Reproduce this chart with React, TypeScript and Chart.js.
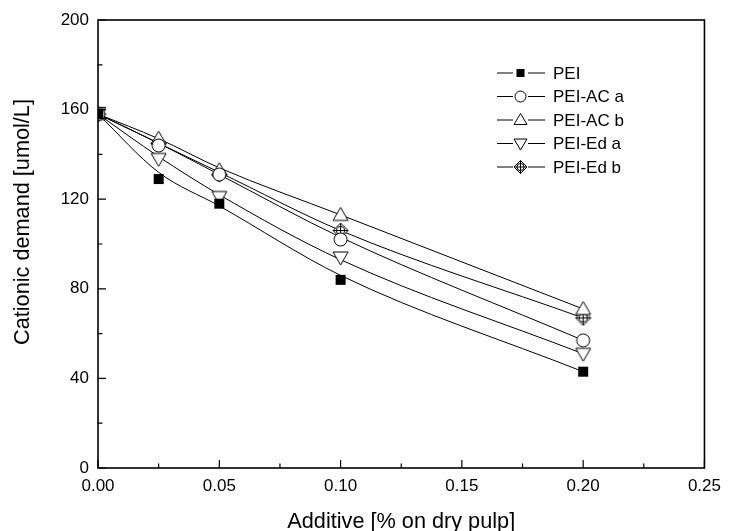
import { useEffect, useRef } from 'react';
import { Chart, registerables } from 'chart.js';

Chart.register(...registerables);

const seriesNames = ['PEI', 'PEI-AC a', 'PEI-AC b', 'PEI-Ed a', 'PEI-Ed b'];
const markerTypes = ['square', 'circle', 'triUp', 'triDown', 'diamondCross'];
const xValues = [0, 0.025, 0.05, 0.1, 0.2];

const peiValues = [158, 129, 118, 84, 43];
const peiAcAValues = [158, 144, 131, 102, 57];
const peiAcBValues = [158, 147, 133, 113, 71];
const peiEdAValues = [158, 138, 121, 94, 51];
const peiEdBValues = [158, 145, 131, 106, 67];

const peiFit = [158, 132, 117, 86, 43];
const peiAcAFit = [158, 145, 131, 103, 57];
const peiAcBFit = [158, 147, 134, 113, 71];
const peiEdAFit = [158, 139, 122, 93, 51];
const peiEdBFit = [158, 145, 132, 106, 67];

const errorBarX = [0];
const errorBarLow = [156];
const errorBarHigh = [161];

const xTickValues = [0, 0.05, 0.1, 0.15, 0.2, 0.25];
const yTickValues = [0, 40, 80, 120, 160, 200];

const xTitle = 'Additive [% on dry pulp]';
const yTitle = 'Cationic demand [umol/L]';

const FONT = "'Liberation Sans', Arial, Helvetica, sans-serif";

function drawMarker(ctx: CanvasRenderingContext2D, type: string, x: number, y: number, s: number) {
  ctx.save();
  ctx.lineWidth = 1;
  ctx.strokeStyle = '#000';
  ctx.fillStyle = '#fff';
  ctx.beginPath();
  const h = s / 2;
  switch (type) {
    case 'square':
      ctx.fillStyle = '#000';
      ctx.fillRect(x - h, y - h, s, s);
      break;
    case 'circle':
      ctx.arc(x, y, h + 1, 0, Math.PI * 2);
      ctx.fill();
      ctx.stroke();
      break;
    case 'triUp':
      ctx.moveTo(x, y - h - 2);
      ctx.lineTo(x + h + 2, y + h);
      ctx.lineTo(x - h - 2, y + h);
      ctx.closePath();
      ctx.fill();
      ctx.stroke();
      break;
    case 'triDown':
      ctx.moveTo(x, y + h + 2);
      ctx.lineTo(x + h + 2, y - h);
      ctx.lineTo(x - h - 2, y - h);
      ctx.closePath();
      ctx.fill();
      ctx.stroke();
      break;
    case 'diamondCross': {
      const d = h + 2;
      ctx.moveTo(x, y - d);
      ctx.lineTo(x + d, y);
      ctx.lineTo(x, y + d);
      ctx.lineTo(x - d, y);
      ctx.closePath();
      ctx.fill();
      ctx.stroke();
      ctx.beginPath();
      ctx.arc(x, y, d * 0.55, 0, Math.PI * 2);
      ctx.stroke();
      ctx.beginPath();
      ctx.moveTo(x, y - d);
      ctx.lineTo(x, y + d);
      ctx.moveTo(x - d, y);
      ctx.lineTo(x + d, y);
      ctx.stroke();
      break;
    }
  }
  ctx.restore();
}

function makeMarkerCanvas(type: string, s: number) {
  const c = document.createElement('canvas');
  const size = s + 6;
  c.width = size;
  c.height = size;
  const ctx = c.getContext('2d')!;
  drawMarker(ctx, type, size / 2, size / 2, s);
  return c;
}

const framePlugin = {
  id: 'originFrame',
  afterDatasetsDraw(chart: any) {
    const ctx: CanvasRenderingContext2D = chart.ctx;
    const { left, right, top, bottom } = chart.chartArea;
    const xs = chart.scales.x;
    const ys = chart.scales.y;

    // error bars
    ctx.save();
    ctx.beginPath();
    ctx.rect(left, top, right - left, bottom - top);
    ctx.clip();
    ctx.strokeStyle = '#000';
    ctx.lineWidth = 1;
    for (let i = 0; i < errorBarX.length; i++) {
      const px = xs.getPixelForValue(errorBarX[i]);
      const y1 = ys.getPixelForValue(errorBarLow[i]);
      const y2 = ys.getPixelForValue(errorBarHigh[i]);
      ctx.beginPath();
      ctx.moveTo(px, y1);
      ctx.lineTo(px, y2);
      ctx.moveTo(px - 8, y1);
      ctx.lineTo(px + 8, y1);
      ctx.moveTo(px - 8, y2);
      ctx.lineTo(px + 8, y2);
      ctx.stroke();
    }
    ctx.restore();

    // frame
    ctx.save();
    ctx.strokeStyle = '#000';
    ctx.lineWidth = 1.6;
    ctx.strokeRect(left, top, right - left, bottom - top);

    // ticks (inward) bottom & left
    ctx.lineWidth = 1.2;
    ctx.beginPath();
    for (let i = 0; i < xTickValues.length; i++) {
      const px = xs.getPixelForValue(xTickValues[i]);
      ctx.moveTo(px, bottom);
      ctx.lineTo(px, bottom - 8);
      if (i < xTickValues.length - 1) {
        const mx = xs.getPixelForValue((xTickValues[i] + xTickValues[i + 1]) / 2);
        ctx.moveTo(mx, bottom);
        ctx.lineTo(mx, bottom - 4.5);
      }
    }
    for (let i = 0; i < yTickValues.length; i++) {
      const py = ys.getPixelForValue(yTickValues[i]);
      ctx.moveTo(left, py);
      ctx.lineTo(left + 8, py);
      if (i < yTickValues.length - 1) {
        const my = ys.getPixelForValue((yTickValues[i] + yTickValues[i + 1]) / 2);
        ctx.moveTo(left, my);
        ctx.lineTo(left + 4.5, my);
      }
    }
    ctx.stroke();

    // axis titles
    ctx.fillStyle = '#000';
    ctx.font = `21.7px ${FONT}`;
    ctx.textAlign = 'center';
    ctx.textBaseline = 'alphabetic';
    ctx.fillText(xTitle, (left + right) / 2, 528);
    ctx.save();
    ctx.translate(29, 222);
    ctx.rotate(-Math.PI / 2);
    ctx.fillText(yTitle, 0, 0);
    ctx.restore();

    // legend
    const lx = left + 399;
    const ly0 = top + 53;
    const dy = 23.5;
    ctx.font = `17px ${FONT}`;
    ctx.textAlign = 'left';
    ctx.textBaseline = 'middle';
    for (let i = 0; i < seriesNames.length; i++) {
      const y = ly0 + i * dy;
      ctx.lineWidth = 1;
      ctx.beginPath();
      ctx.moveTo(lx, y);
      ctx.lineTo(lx + 16, y);
      ctx.moveTo(lx + 31, y);
      ctx.lineTo(lx + 48, y);
      ctx.stroke();
      drawMarker(ctx, markerTypes[i], lx + 23.5, y, markerTypes[i] === 'square' ? 8 : 9);
      ctx.fillText(seriesNames[i], lx + 56, y + 1);
    }
    ctx.restore();
  },
};

export default function App() {
  const ref = useRef<HTMLCanvasElement | null>(null);

  useEffect(() => {
    document.body.style.margin = '0';
    document.body.style.overflow = 'hidden';
    const canvas = ref.current;
    if (!canvas) return;

    const allValues = [peiValues, peiAcAValues, peiAcBValues, peiEdAValues, peiEdBValues];
    const allFits = [peiFit, peiAcAFit, peiAcBFit, peiEdAFit, peiEdBFit];

    const markerSets = allValues.map((vals, i) => ({
      type: 'scatter' as const,
      label: seriesNames[i],
      data: xValues.map((x, j) => ({ x, y: vals[j] })),
      showLine: false,
      pointStyle: makeMarkerCanvas(markerTypes[i], markerTypes[i] === 'square' ? 10 : 11),
      pointRadius: 6,
      order: 0,
    }));
    const fitSets = allFits.map((vals, i) => ({
      type: 'line' as const,
      label: seriesNames[i] + ' fit',
      data: xValues.map((x, j) => ({ x, y: vals[j] })),
      showLine: true,
      borderColor: '#000',
      borderWidth: 1,
      pointRadius: 0,
      fill: false,
      cubicInterpolationMode: 'monotone' as const,
      order: 1,
    }));

    const chart = new Chart(canvas, {
      type: 'scatter',
      data: { datasets: [...markerSets, ...fitSets] as any },
      options: {
        responsive: false,
        animation: false,
        devicePixelRatio: 1,
        layout: { padding: { top: 20, right: 18, left: 0, bottom: 0 } },
        plugins: { legend: { display: false }, tooltip: { enabled: false } },
        scales: {
          x: {
            type: 'linear',
            min: 0,
            max: 0.25,
            afterFit: (s: any) => { s.height = 63; },
            afterBuildTicks: (s: any) => { s.ticks = xTickValues.map((v) => ({ value: v })); },
            ticks: {
              color: '#000',
              font: { family: FONT, size: 17 },
              padding: 8,
              maxRotation: 0,
              callback: (v: any) => Number(v).toFixed(2),
            },
            grid: { display: false, drawTicks: false },
            border: { display: false },
          },
          y: {
            type: 'linear',
            min: 0,
            max: 200,
            afterFit: (s: any) => { s.width = 98; },
            afterBuildTicks: (s: any) => { s.ticks = yTickValues.map((v) => ({ value: v })); },
            ticks: {
              color: '#000',
              font: { family: FONT, size: 17 },
              padding: 9,
              callback: (v: any) => String(v),
            },
            grid: { display: false, drawTicks: false },
            border: { display: false },
          },
        },
      },
      plugins: [framePlugin],
    });
    return () => chart.destroy();
  }, []);

  return (
    <div style={{ width: 729, height: 531, background: '#fff' }}>
      <canvas ref={ref} width={729} height={531} style={{ display: 'block' }} />
    </div>
  );
}
